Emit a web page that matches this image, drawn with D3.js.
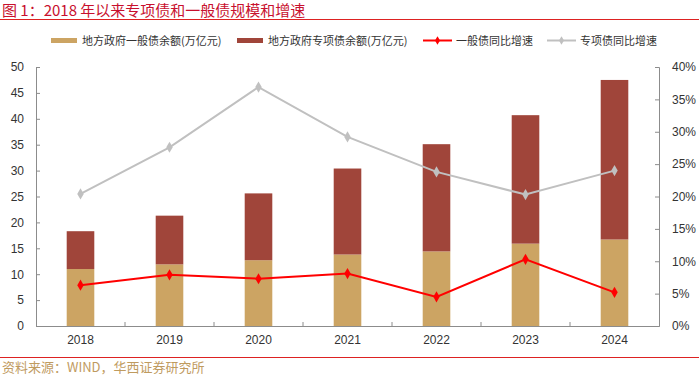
<!DOCTYPE html>
<html>
<head>
<meta charset="utf-8">
<script src="https://cdn.jsdelivr.net/npm/d3@7/dist/d3.min.js"></script>
<style>
  body { margin: 0; background: #fff; }
  svg { display: block; }
  .tick text { font-family: "Liberation Sans", Arial, sans-serif; font-size: 12px; fill: #333; }
  .cjk { font-family: "Noto Sans CJK SC", sans-serif; }
</style>
</head>
<body>
<div id="chart"></div>
<script>
var years = ["2018", "2019", "2020", "2021", "2022", "2023", "2024"];
var generalDebt = [11.0, 11.9, 12.7, 13.8, 14.4, 15.9, 16.7];
var specialDebt = [7.3, 9.4, 12.9, 16.6, 20.7, 24.8, 30.8];
var generalGrowth = [6.3, 7.9, 7.3, 8.1, 4.5, 10.3, 5.2];
var specialGrowth = [20.4, 27.6, 36.9, 29.2, 23.8, 20.3, 24.0];
var leftTicks = [0, 5, 10, 15, 20, 25, 30, 35, 40, 45, 50];
var rightTicks = [0, 5, 10, 15, 20, 25, 30, 35, 40];

var width = 699,
    height = 375,
    margin = { left: 36, right: 40, top: 67, bottom: 49 },
    gold = "#cca463",
    brick = "#a0453a",
    red = "#ff0000",
    grey = "#c0c0c0";

var svg = d3.select("#chart").append("svg")
    .attr("width", width)
    .attr("height", height);

// title + rule
svg.append("text")
    .attr("class", "cjk")
    .attr("x", 2).attr("y", 16)
    .style("font-size", "15px")
    .style("fill", "#c8102e")
    .text("图 1：2018 年以来专项债和一般债规模和增速");

svg.append("line")
    .attr("x1", 0).attr("x2", width)
    .attr("y1", 19.5).attr("y2", 19.5)
    .style("stroke", "#d22").style("stroke-width", 1.2);

var x = d3.scaleBand()
    .domain(years)
    .range([margin.left, width - margin.right]);

var yL = d3.scaleLinear().domain([0, 50]).range([height - margin.bottom, margin.top]);
var yR = d3.scaleLinear().domain([0, 40]).range([height - margin.bottom, margin.top]);

var barW = x.bandwidth() * 0.31;

// bars
var g = svg.append("g");
years.forEach(function(yr, i) {
    var cx = x(yr) + x.bandwidth() / 2;
    g.append("rect")
        .attr("x", cx - barW / 2)
        .attr("width", barW)
        .attr("y", yL(generalDebt[i]))
        .attr("height", yL(0) - yL(generalDebt[i]))
        .style("fill", gold);
    g.append("rect")
        .attr("x", cx - barW / 2)
        .attr("width", barW)
        .attr("y", yL(generalDebt[i] + specialDebt[i]))
        .attr("height", yL(generalDebt[i]) - yL(generalDebt[i] + specialDebt[i]))
        .style("fill", brick);
});

// axes
var axisColor = "#8c8c8c";

var leftAxis = svg.append("g")
    .attr("transform", "translate(" + margin.left + ",0)")
    .call(d3.axisLeft(yL).tickValues(leftTicks).tickSize(-4).tickPadding(12));

var rightAxis = svg.append("g")
    .attr("transform", "translate(" + (width - margin.right) + ",0)")
    .call(d3.axisRight(yR).tickValues(rightTicks).tickSize(-4).tickPadding(13)
        .tickFormat(function(d) { return d + "%"; }));

var bottomAxis = svg.append("g")
    .attr("transform", "translate(0," + yL(0) + ")")
    .call(d3.axisBottom(x).tickSize(0).tickPadding(9));

[leftAxis, rightAxis, bottomAxis].forEach(function(a) {
    a.select(".domain").style("stroke", axisColor);
    a.selectAll(".tick line").style("stroke", axisColor);
});

// category boundary ticks on x axis
svg.append("g").selectAll("line")
    .data(years.slice(1))
    .enter().append("line")
    .attr("x1", function(d) { return x(d); })
    .attr("x2", function(d) { return x(d); })
    .attr("y1", yL(0)).attr("y2", yL(0) - 4)
    .style("stroke", axisColor);

// lines
var line = d3.line()
    .x(function(d, i) { return x(years[i]) + x.bandwidth() / 2; })
    .y(function(d) { return yR(d); });

var diamond = d3.symbol().type(d3.symbolDiamond).size(36);

function drawSeries(data, color) {
    svg.append("path")
        .datum(data)
        .attr("d", line)
        .style("fill", "none")
        .style("stroke", color)
        .style("stroke-width", 2);
    svg.append("g").selectAll("path")
        .data(data)
        .enter().append("path")
        .attr("d", diamond)
        .attr("transform", function(d, i) {
            return "translate(" + (x(years[i]) + x.bandwidth() / 2) + "," + yR(d) + ")";
        })
        .style("fill", color);
}
drawSeries(specialGrowth, grey);
drawSeries(generalGrowth, red);

// legend
var legend = svg.append("g").attr("class", "cjk").style("font-size", "11px");
var items = [
    { type: "bar", color: gold, x: 51, label: "地方政府一般债余额(万亿元)" },
    { type: "bar", color: brick, x: 237, label: "地方政府专项债余额(万亿元)" },
    { type: "line", color: red, x: 423, label: "一般债同比增速" },
    { type: "line", color: grey, x: 547, label: "专项债同比增速" }
];
items.forEach(function(it) {
    if (it.type == "bar") {
        legend.append("rect")
            .attr("x", it.x).attr("y", 38)
            .attr("width", 26).attr("height", 5)
            .style("fill", it.color);
    } else {
        legend.append("line")
            .attr("x1", it.x).attr("x2", it.x + 29)
            .attr("y1", 40.5).attr("y2", 40.5)
            .style("stroke", it.color).style("stroke-width", 2);
        legend.append("path")
            .attr("d", d3.symbol().type(d3.symbolDiamond).size(22))
            .attr("transform", "translate(" + (it.x + 14.5) + ",40.5)")
            .style("fill", it.color);
    }
    legend.append("text")
        .attr("x", it.x + (it.type == "bar" ? 31 : 33))
        .attr("y", 44.5)
        .style("fill", "#333")
        .text(it.label);
});

// footer
svg.append("line")
    .attr("x1", 0).attr("x2", width)
    .attr("y1", 357.5).attr("y2", 357.5)
    .style("stroke", "#d22").style("stroke-width", 1.2);

svg.append("text")
    .attr("class", "cjk")
    .attr("x", 2).attr("y", 371.5)
    .style("font-size", "13px")
    .style("fill", "#bf9b5f")
    .text("资料来源：WIND，华西证券研究所");
</script>
</body>
</html>
